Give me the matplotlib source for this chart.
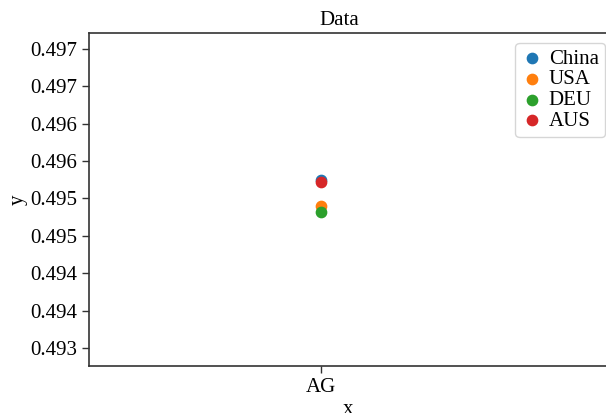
import matplotlib
matplotlib.use("Agg")
import matplotlib.pyplot as plt

categories = ["AG"]
countries = ["China", "USA", "DEU", "AUS"]
values = {
    "China": [0.495251],
    "USA": [0.494897],
    "DEU": [0.494812],
    "AUS": [0.495217],
}
colors = ["#1f77b4", "#ff7f0e", "#2ca02c", "#d62728"]
yticks = [0.4930, 0.4935, 0.4940, 0.4945, 0.4950, 0.4955, 0.4960, 0.4965, 0.4970]
ytick_labels = ["0.493", "0.494", "0.494", "0.495", "0.495", "0.496", "0.496", "0.497", "0.497"]

plt.rcParams["font.family"] = ["Liberation Serif", "DejaVu Serif"]
plt.rcParams["font.size"] = 15

W, H = 606, 413
fig = plt.figure(figsize=(W / 100, H / 100), dpi=100)
ax = fig.add_axes([89 / W, 47 / H, (608 - 89) / W, 333 / H])

for c, col in zip(countries, colors):
    ax.scatter(categories, values[c], s=55, color=col, label=c, zorder=3)

ax.set_xlim(-1, 1.237)
ax.set_ylim(0.49276, 0.49721)
ax.set_yticks(yticks)
ax.set_yticklabels(ytick_labels)
ax.set_title("Data", fontsize=15, x=(339 - 89) / (608 - 89))
ax.set_xlabel("x", labelpad=2)
ax.set_ylabel("y", labelpad=2)
for s in ax.spines.values():
    s.set_color("#333333")
    s.set_linewidth(1.2)
ax.tick_params(color="#333333", length=5, width=1.0, labelsize=15)
leg = ax.legend(loc="upper right", handletextpad=0.3, borderpad=0.3,
                labelspacing=0.05, handlelength=1.0, borderaxespad=0.0,
                bbox_to_anchor=(605 / W, 1 - 43 / H),
                bbox_transform=fig.transFigure)
leg.get_frame().set_edgecolor("#cccccc")

fig.savefig("out.png", dpi=100)
